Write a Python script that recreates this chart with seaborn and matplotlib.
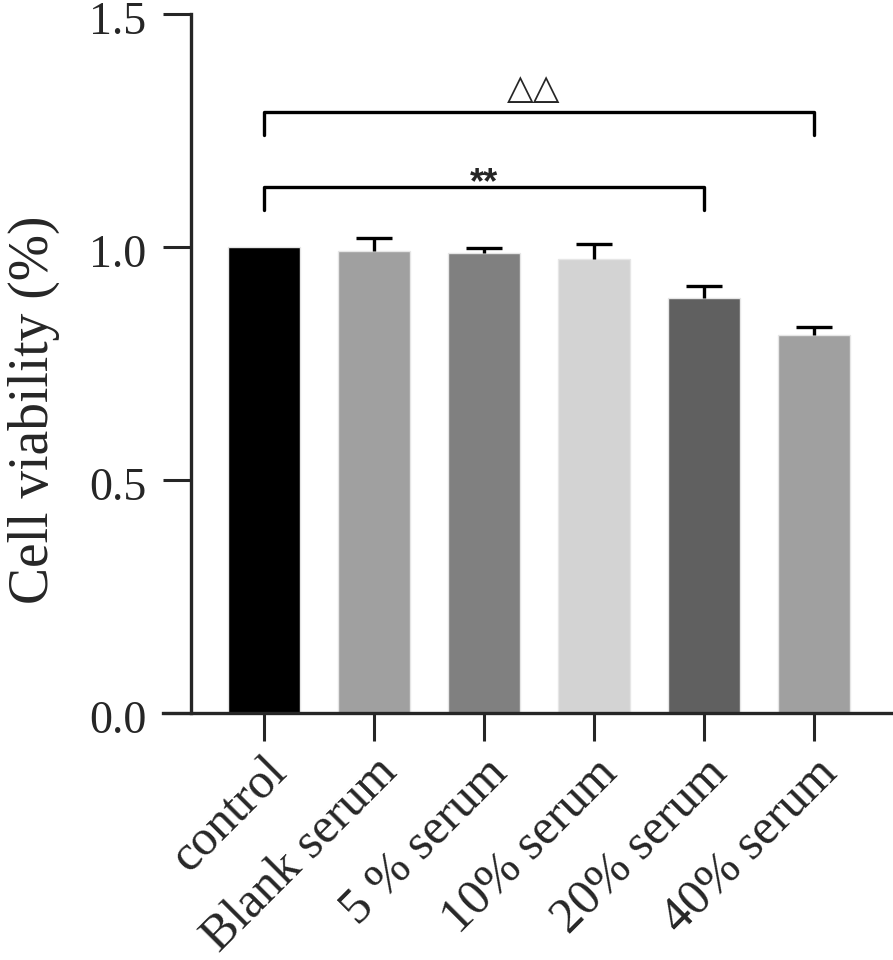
import numpy as np
import pandas as pd
import matplotlib
matplotlib.use("Agg")
import matplotlib.pyplot as plt
import matplotlib.transforms as mtransforms
import seaborn as sns

# values
groups = ["control", "Blank serum", "5% serum", "10% serum", "20% serum", "40% serum"]
tick_labels = ["control", "Blank serum", "5 % serum", "10% serum", "20% serum", "40% serum"]
viability = [1.000, 0.991, 0.987, 0.974, 0.891, 0.811]
sem = [0.0, 0.028, 0.011, 0.032, 0.025, 0.017]
bar_colors = ["#000000", "#a0a0a0", "#808080", "#d3d3d3", "#606060", "#a0a0a0"]

# significance brackets: (left group, right group, height, label)
sig_left = [0, 0]
sig_right = [5, 4]
sig_height = [1.29, 1.129]
sig_label = ["\u25b3\u25b3", "**"]

df = pd.DataFrame({"group": groups, "viability": viability})

sns.set_style("ticks")
plt.rcParams["font.family"] = ["Liberation Serif", "DejaVu Sans"]

fig = plt.figure(figsize=(8.93, 9.6), dpi=100)
ax = fig.add_axes([163 / 893, 247 / 960, 730 / 893, 699 / 960])

sns.barplot(data=df, x="group", y="viability", hue="group", palette=bar_colors,
            width=0.66, edgecolor="#e6e6e6", linewidth=1, legend=False, ax=ax)

# upper error bars only
x = np.arange(len(groups))
top = np.array(viability) + np.array(sem)
has_err = np.array(sem) > 0
ax.vlines(x[has_err], np.array(viability)[has_err], top[has_err], color="black", lw=2.4, zorder=3)
ax.hlines(top[has_err], x[has_err] - 0.165, x[has_err] + 0.165, color="black", lw=2.4, zorder=3)

# brackets
for l, r, h, lab in zip(sig_left, sig_right, sig_height, sig_label):
    leg = 0.05
    ax.plot([l, l, r, r], [h - leg, h, h, h - leg], color="black", lw=2.4, clip_on=False)
    if lab == "**":
        ax.text((l + r) / 2, h - 0.03, lab, ha="center", va="bottom", fontsize=26,
                fontweight="bold", family=["Liberation Sans", "DejaVu Sans"])
    else:
        ax.text((l + r) / 2 - 0.05, h + 0.012, lab, ha="center", va="bottom", fontsize=25,
                family=["DejaVu Sans"])

ax.set_xlim(-0.918, 5.718)
ax.set_ylim(0, 1.5)
ax.set_yticks([0, 0.5, 1.0, 1.5])
ax.set_yticklabels(["0.0", "0.5", "1.0", "1.5"])
ax.set_xticks(x)
ax.set_xticklabels(tick_labels, rotation=45, ha="right", rotation_mode="anchor")

ax.spines["left"].set_position(("data", -0.664))
for s in ["left", "bottom"]:
    ax.spines[s].set_linewidth(2.4)
sns.despine(ax=ax)

ax.tick_params(axis="y", length=20, width=2.2, labelsize=33, pad=12)
ax.tick_params(axis="x", length=20, width=2.2, labelsize=36, pad=6)

# nudge y tick labels a little down like the reference
shift = mtransforms.ScaledTranslation(0, -4 / 100, fig.dpi_scale_trans)
for lab in ax.get_yticklabels():
    lab.set_transform(lab.get_transform() + shift)

ax.set_xlabel("")
ax.set_ylabel("Cell viability (%)", fontsize=40)
ax.yaxis.set_label_coords(-0.141, 0.4335)

fig.savefig("out.png", dpi=100)
